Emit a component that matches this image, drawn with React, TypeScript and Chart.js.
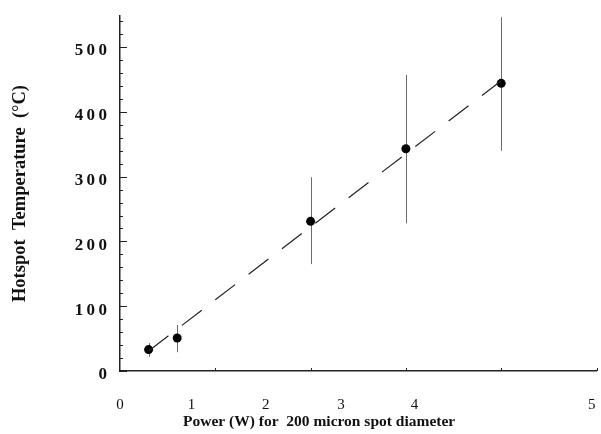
import React, { useEffect, useRef } from 'react';
import { Chart, registerables } from 'chart.js';

Chart.register(...registerables);

// Measured data: hotspot temperature vs. laser power
const powerW = [0.3, 0.6, 2.0, 3.0, 4.0];
const tempC = [33, 51, 231, 343, 444];
const errLow = [22, 29, 165, 228, 340];
const errHigh = [43, 71, 299, 457, 546];

// Linear fit line (dashed)
const fitX = [0.3, 4.0];
const fitY = [31, 448];

// Axis ticks / labels
const yTickValues = [0, 100, 200, 300, 400, 500];
const xTickLabels = ['0', '1', '2', '3', '4', '5'];
// where the (misaligned) printed labels sit along the power axis
const xTickAt = [0, 0.75, 1.53, 2.32, 3.09, 4.95];
const xMarkValues = [1, 2, 3, 4, 5];

const SERIF = "'Liberation Serif', 'DejaVu Serif', serif";

const errorBarsPlugin = {
  id: 'errorBars',
  beforeDatasetsDraw(chart: any) {
    const { ctx, scales } = chart;
    const xs = scales.x;
    const ys = scales.y;
    ctx.save();
    ctx.strokeStyle = '#6a6a6a';
    ctx.lineWidth = 1;
    for (let i = 0; i < powerW.length; i++) {
      const px = Math.round(xs.getPixelForValue(powerW[i])) + 0.5;
      ctx.beginPath();
      ctx.moveTo(px, ys.getPixelForValue(errHigh[i]));
      ctx.lineTo(px, ys.getPixelForValue(errLow[i]));
      ctx.stroke();
    }
    ctx.restore();
  },
};

const axisMarksPlugin = {
  id: 'axisMarks',
  afterDraw(chart: any) {
    const { ctx, scales, chartArea } = chart;
    const xs = scales.x;
    const ys = scales.y;
    ctx.save();
    ctx.strokeStyle = '#222';
    ctx.lineWidth = 1;
    // inward y ticks: minor every 20, major every 100
    for (let v = 0; v <= ys.max; v += 20) {
      const py = Math.round(ys.getPixelForValue(v)) + 0.5;
      const len = v % 100 === 0 ? 7 : 3;
      ctx.beginPath();
      ctx.moveTo(chartArea.left, py);
      ctx.lineTo(chartArea.left + len, py);
      ctx.stroke();
    }
    // inward x ticks
    for (const v of xMarkValues) {
      const px = Math.round(xs.getPixelForValue(v)) + 0.5;
      ctx.beginPath();
      ctx.moveTo(px, chartArea.bottom);
      ctx.lineTo(px, chartArea.bottom - 3);
      ctx.stroke();
    }
    // x axis title
    ctx.fillStyle = '#111';
    ctx.font = `bold 15.5px ${SERIF}`;
    ctx.textAlign = 'left';
    ctx.textBaseline = 'middle';
    ctx.fillText('Power (W) for  200 micron spot diameter', chartArea.left + 63, chartArea.bottom + 51);
    ctx.restore();
  },
};

export default function App() {
  const canvasRef = useRef<HTMLCanvasElement | null>(null);

  useEffect(() => {
    if (!canvasRef.current) return;
    const chart = new Chart(canvasRef.current, {
      type: 'scatter',
      data: {
        datasets: [
          {
            type: 'line',
            label: 'fit',
            data: fitX.map((x, i) => ({ x, y: fitY[i] })),
            borderColor: '#222',
            borderWidth: 1.2,
            borderDash: [25, 17],
            pointRadius: 0,
            fill: false,
          },
          {
            type: 'scatter',
            label: 'measured',
            data: powerW.map((x, i) => ({ x, y: tempC[i] })),
            backgroundColor: '#000',
            borderColor: '#000',
            borderWidth: 0,
            pointRadius: 4.5,
          },
        ],
      } as any,
      options: {
        responsive: false,
        animation: false,
        layout: { padding: { top: 16, right: 0, left: 0, bottom: 0 } },
        plugins: {
          legend: { display: false },
          tooltip: { enabled: false },
        },
        scales: {
          x: {
            type: 'linear',
            min: 0,
            max: 5,
            afterBuildTicks: (scale: any) => {
              scale.ticks = xTickAt.map((v) => ({ value: v }));
            },
            afterFit: (scale: any) => {
              scale.height = 63;
              scale.paddingLeft = 0;
              scale.paddingRight = 0;
            },
            grid: { display: false, drawTicks: false },
            border: { display: true, color: '#222', width: 1.5 },
            ticks: {
              autoSkip: false,
              maxRotation: 0,
              padding: 25,
              color: '#111',
              font: { family: SERIF, size: 15 },
              callback: (_v: any, idx: number) => xTickLabels[idx],
            },
          },
          y: {
            type: 'linear',
            min: 0,
            max: 548,
            afterBuildTicks: (scale: any) => {
              scale.ticks = yTickValues.map((v) => ({ value: v }));
            },
            afterFit: (scale: any) => {
              scale.width = 120;
              scale.paddingTop = 0;
              scale.paddingBottom = 0;
            },
            grid: { display: false, drawTicks: false },
            border: { display: true, color: '#222', width: 1.5 },
            ticks: {
              padding: 13,
              labelOffset: 4,
              color: '#111',
              font: { family: SERIF, size: 17, weight: 'bold' },
              callback: (v: any) => String(v).split('').join('\u2009'),
            },
            title: {
              display: true,
              text: 'Hotspot  Temperature  (°C)',
              color: '#111',
              font: { family: SERIF, size: 18.5, weight: 'bold' },
              padding: { top: 9, bottom: 0 },
            },
          },
        },
      } as any,
      plugins: [errorBarsPlugin, axisMarksPlugin],
    });
    return () => chart.destroy();
  }, []);

  return (
    <div style={{ position: 'absolute', left: 0, top: 0, width: 601, height: 434, background: '#fff' }}>
      <canvas ref={canvasRef} width={601} height={434} />
    </div>
  );
}
